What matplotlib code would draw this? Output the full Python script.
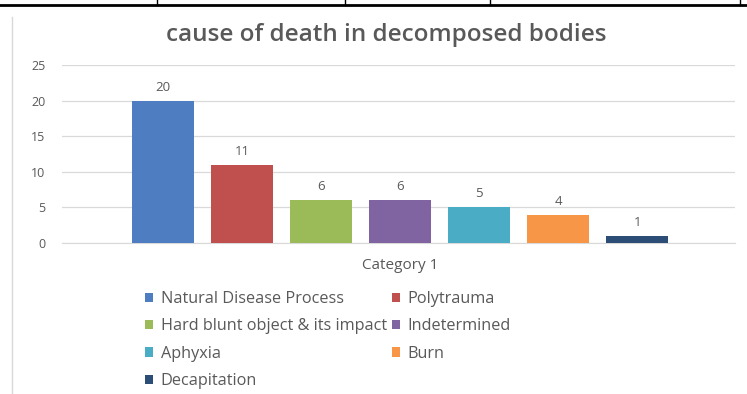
"""Cause of death in decomposed bodies - single-category clustered bar chart."""
import matplotlib
matplotlib.use("Agg")
import matplotlib.pyplot as plt
from matplotlib.lines import Line2D

TITLE = "cause of death in decomposed bodies"
CATEGORY = "Category 1"
CAUSES = [
    "Natural Disease Process",
    "Polytrauma",
    "Hard blunt object & its impact",
    "Indetermined",
    "Aphyxia",
    "Burn",
    "Decapitation",
]
COUNTS = [20, 11, 6, 6, 5, 4, 1]
COLORS = ["#4F7DC2", "#C0504D", "#9BBB59", "#8064A2", "#4BACC6", "#F79646", "#2C4D75"]
Y_TICKS = [0, 5, 10, 15, 20, 25]

TEXT_COLOR = "#595959"
plt.rcParams["font.family"] = ["Open Sans", "DejaVu Sans"]

fig = plt.figure(figsize=(7.47, 3.94), dpi=100)
ax = fig.add_axes([62 / 747, 151 / 394, 673 / 747, 178 / 394])

bars = []
for i, (name, val, col) in enumerate(zip(CAUSES, COUNTS, COLORS)):
    b = ax.bar(i, val, width=0.79, color=col, label=name, zorder=3)
    bars.append(b[0])
    ax.annotate(str(val), xy=(i, val), xytext=(0, 5), textcoords="offset points",
                ha="center", va="bottom", fontsize=9.5, color=TEXT_COLOR)

ax.set_xlim(-1.28, 7.24)
ax.set_ylim(0, 25)
ax.set_yticks(Y_TICKS)
ax.tick_params(axis="y", length=0, labelsize=9, labelcolor=TEXT_COLOR, pad=12)
ax.set_xticks([(len(CAUSES) - 1) / 2])
ax.set_xticklabels([CATEGORY])
ax.tick_params(axis="x", length=0, labelsize=11, labelcolor=TEXT_COLOR, pad=11)
ax.grid(axis="y", color="#D9D9D9", linewidth=0.9, zorder=0)
for s in ["top", "right", "left"]:
    ax.spines[s].set_visible(False)
ax.spines["bottom"].set_color("#D9D9D9")
fig.text(386 / 747, 1 - 35 / 394, TITLE, fontsize=17.5, color=TEXT_COLOR, fontweight="semibold",
         ha="center", va="center")

# legend filled row by row, two columns
order = [0, 2, 4, 6, 1, 3, 5]
handles = [bars[k] for k in order]
labels = [CAUSES[k] for k in order]
fig.legend(handles, labels, ncol=2, loc="upper left", bbox_to_anchor=(137 / 747, 1 - 283 / 394),
           frameon=False, fontsize=11.7, labelcolor=TEXT_COLOR, handlelength=0.5, handleheight=0.5,
           handletextpad=0.45, columnspacing=0.3, labelspacing=0.7, borderpad=0)

# surrounding table borders from the source document
fig.add_artist(Line2D([0, 1], [1 - 5 / 394] * 2, color="black", linewidth=2))
for xp in [157, 345, 490, 740]:
    fig.add_artist(Line2D([xp / 747] * 2, [1, 1 - 5 / 394], color="black", linewidth=1))
fig.add_artist(Line2D([12 / 747] * 2, [1 - 17 / 394, 0], color="#D9D9D9", linewidth=1))

fig.savefig("out.png", dpi=100)
